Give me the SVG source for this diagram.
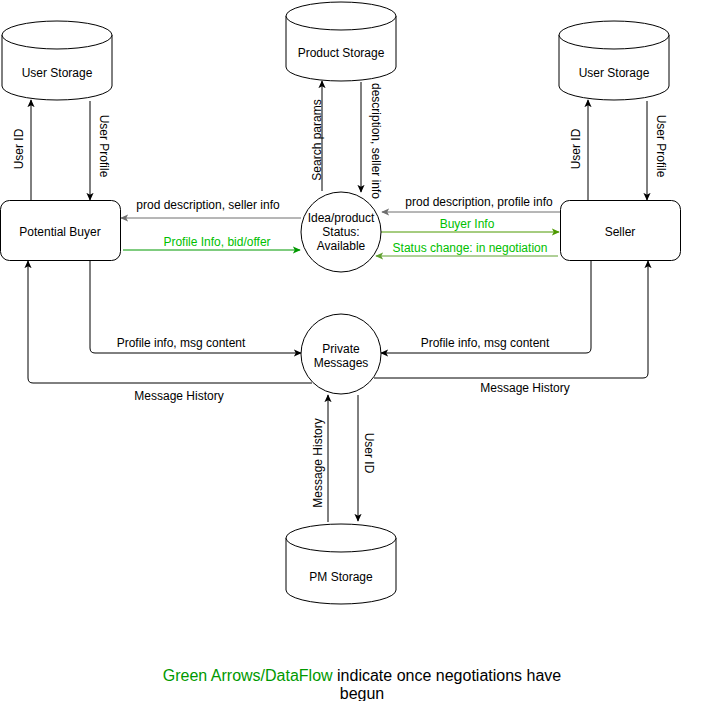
<svg xmlns="http://www.w3.org/2000/svg" width="718" height="701" viewBox="0 0 718 701">
<style>
text{font-family:"Liberation Sans",Arial,Helvetica,sans-serif;font-size:12px;fill:#000}
.c{text-anchor:middle}
.node{fill:#fff;stroke:#000;stroke-width:1}
.e{fill:none;stroke:#000;stroke-width:1}
.gray{stroke:#6e6e6e}
.g1{stroke:#009900}
.g2{stroke:#4d9900}
.g3{stroke:#60a030}
.gt{fill:#00c000}
</style>
<defs>
<marker id="a" viewBox="0 0 10 10" refX="9" refY="5" markerWidth="8" markerHeight="8" markerUnits="userSpaceOnUse" orient="auto"><path d="M0,0.5 L10,5 L0,9.5 L2.5,5 Z" fill="#000"/></marker>
<marker id="ag" viewBox="0 0 10 10" refX="9" refY="5" markerWidth="8" markerHeight="8" markerUnits="userSpaceOnUse" orient="auto"><path d="M0,0.5 L10,5 L0,9.5 L2.5,5 Z" fill="#6e6e6e"/></marker>
<marker id="a1" viewBox="0 0 10 10" refX="9" refY="5" markerWidth="8" markerHeight="8" markerUnits="userSpaceOnUse" orient="auto"><path d="M0,0.5 L10,5 L0,9.5 L2.5,5 Z" fill="#009900"/></marker>
<marker id="a2" viewBox="0 0 10 10" refX="9" refY="5" markerWidth="8" markerHeight="8" markerUnits="userSpaceOnUse" orient="auto"><path d="M0,0.5 L10,5 L0,9.5 L2.5,5 Z" fill="#4d9900"/></marker>
<marker id="a3" viewBox="0 0 10 10" refX="9" refY="5" markerWidth="8" markerHeight="8" markerUnits="userSpaceOnUse" orient="auto"><path d="M0,0.5 L10,5 L0,9.5 L2.5,5 Z" fill="#60a030"/></marker>
</defs>
<rect width="718" height="701" fill="#fff"/>

<g id="connectors">
<path class="e" d="M31,200 V100" marker-end="url(#a)"/>
<path class="e" d="M90,101 V200" marker-end="url(#a)"/>
<path class="e" d="M588,200 V100" marker-end="url(#a)"/>
<path class="e" d="M647,101 V200" marker-end="url(#a)"/>
<path class="e" d="M322,191 V81" marker-end="url(#a)"/>
<path class="e" d="M361,82 V192" marker-end="url(#a)"/>
<path class="e gray" d="M301,218 H121" marker-end="url(#ag)"/>
<path class="e g1" d="M123,250 H300" marker-end="url(#a1)"/>
<path class="e gray" d="M560,212 H382" marker-end="url(#ag)"/>
<path class="e g2" d="M381,232 H559" marker-end="url(#a2)"/>
<path class="e g3" d="M558,256 H376" marker-end="url(#a3)"/>
<path class="e" d="M90,260 V348 Q90,353 95,353 H301" marker-end="url(#a)"/>
<path class="e" d="M591,260 V348 Q591,353 586,353 H381" marker-end="url(#a)"/>
<path class="e" d="M312,383 H33 Q28,383 28,378 V261" marker-end="url(#a)"/>
<path class="e" d="M374,378 H643 Q648,378 648,373 V261" marker-end="url(#a)"/>
<path class="e" d="M328,522 V395" marker-end="url(#a)"/>
<path class="e" d="M358,395 V521" marker-end="url(#a)"/>
<text class="c" transform="translate(19,149) rotate(-90)" y="4">User ID</text>
<text class="c" transform="translate(104,146) rotate(90)" y="4">User Profile</text>
<text class="c" transform="translate(576,149) rotate(-90)" y="4">User ID</text>
<text class="c" transform="translate(661,146) rotate(90)" y="4">User Profile</text>
<text class="c" transform="translate(317,140) rotate(-90)" y="4">Search params</text>
<text class="c" transform="translate(376,141) rotate(90)" y="4">description, seller info</text>
<text class="c" transform="translate(318,463) rotate(-90)" y="4">Message History</text>
<text class="c" transform="translate(369,453) rotate(90)" y="4">User ID</text>
<text class="c" x="208" y="209">prod description, seller info</text>
<text class="c gt" x="217" y="246">Profile Info, bid/offer</text>
<text class="c" x="479" y="206">prod description, profile info</text>
<text class="c gt" x="467" y="228">Buyer Info</text>
<text class="c gt" x="470" y="252">Status change: in negotiation</text>
<text class="c" x="181" y="347">Profile info, msg content</text>
<text class="c" x="485" y="347">Profile info, msg content</text>
<text class="c" x="179" y="400">Message History</text>
<text class="c" x="525" y="392">Message History</text>
</g>

<g id="user-storage-left">
<path class="node" d="M2,35 V86 A55,14 0 0 0 112,86 V35"/>
<ellipse class="node" cx="57" cy="35" rx="55" ry="14"/>
<text class="c" x="57" y="77">User Storage</text>
</g>
<g id="product-storage">
<path class="node" d="M286,16 V67 A55,14 0 0 0 396,67 V16"/>
<ellipse class="node" cx="341" cy="16" rx="55" ry="14"/>
<text class="c" x="341" y="57">Product Storage</text>
</g>
<g id="user-storage-right">
<path class="node" d="M559,35 V86 A55,14 0 0 0 669,86 V35"/>
<ellipse class="node" cx="614" cy="35" rx="55" ry="14"/>
<text class="c" x="614" y="77">User Storage</text>
</g>
<g id="potential-buyer">
<rect class="node" x="0.5" y="200.5" width="120" height="60" rx="9"/>
<text class="c" x="60" y="236">Potential Buyer</text>
</g>
<g id="seller">
<rect class="node" x="560.5" y="200.5" width="120" height="60" rx="9"/>
<text class="c" x="620" y="236">Seller</text>
</g>
<g id="idea-product">
<circle class="node" cx="341" cy="232" r="40"/>
<text class="c" x="341" y="222">Idea/product</text>
<text class="c" x="341" y="236">Status:</text>
<text class="c" x="341" y="250">Available</text>
</g>
<g id="private-messages">
<circle class="node" cx="341" cy="354" r="40"/>
<text class="c" x="341" y="353">Private</text>
<text class="c" x="341" y="367">Messages</text>
</g>
<g id="pm-storage">
<path class="node" d="M286,538 V590 A55,14 0 0 0 396,590 V538"/>
<ellipse class="node" cx="341" cy="538" rx="55" ry="14"/>
<text class="c" x="341" y="581">PM Storage</text>
</g>
<g id="note">
<text class="c" x="362" y="681" style="font-size:16px"><tspan style="fill:#009900">Green Arrows/DataFlow</tspan> indicate once negotiations have</text>
<text class="c" x="362" y="699" style="font-size:16px">begun</text>
</g>
</svg>
